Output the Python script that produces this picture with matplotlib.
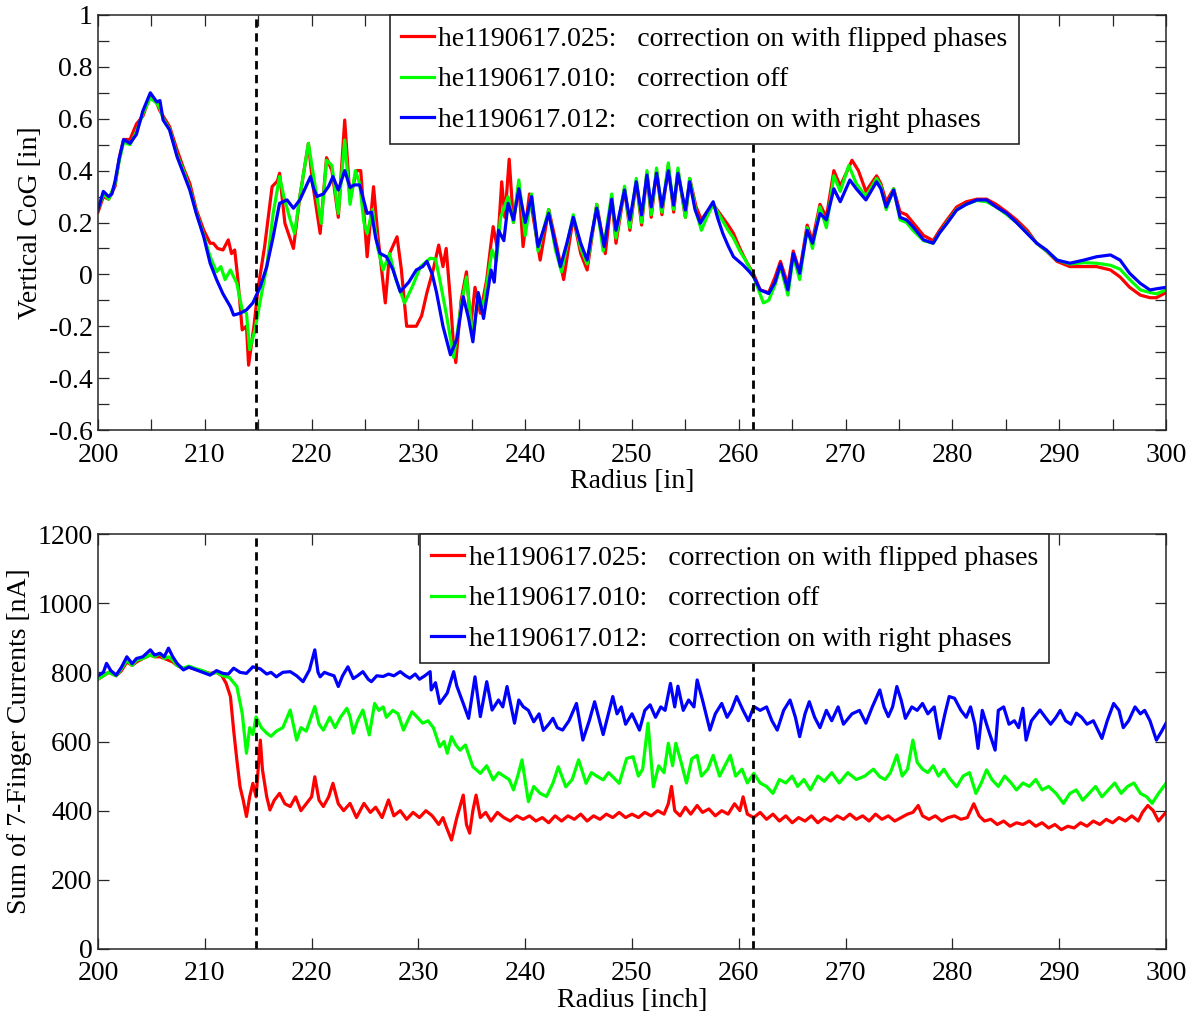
import matplotlib
matplotlib.use("Agg")
import matplotlib.pyplot as plt
from matplotlib.ticker import MultipleLocator

plt.rcParams['font.family'] = ['Liberation Serif', 'DejaVu Serif']
plt.rcParams['axes.unicode_minus'] = False

# ---- data: top panel (vertical CoG) ----
cog_blue_x = [200.0, 200.5, 201.0, 201.3, 201.6, 202.0, 202.4, 203.0, 203.6, 204.2, 204.9, 205.5, 205.8, 206.1, 206.7,
              207.4, 208.0, 208.6, 209.2, 209.9, 210.5, 211.1, 211.7, 212.4, 212.7, 213.3, 213.9, 214.5, 215.2, 215.8,
              216.4, 217.0, 217.7, 218.3, 218.9, 219.9, 220.2, 220.5, 221.1, 221.6, 222.0, 222.5, 223.1, 223.6, 224.0,
              224.5, 225.2, 225.6, 226.0, 226.4, 227.0, 227.6, 228.3, 229.1, 229.8, 230.4, 230.8, 231.3, 231.7, 232.3,
              233.0, 233.6, 234.2, 234.7, 235.1, 235.6, 236.1, 236.8, 237.1, 237.5, 238.0, 238.4, 238.9, 239.4, 240.0,
              240.6, 241.2, 241.7, 242.2, 242.8, 243.3, 243.9, 244.5, 245.2, 245.8, 246.2, 246.7, 247.4, 248.1, 248.5,
              249.3, 249.8, 250.4, 250.9, 251.4, 251.8, 252.3, 252.8, 253.4, 253.9, 254.3, 255.0, 255.4, 255.9, 256.4,
              257.0, 257.6, 258.0, 258.5, 259.0, 259.5, 260.0, 260.4, 261.0, 261.4, 262.0, 262.8, 263.4, 263.9, 264.6,
              265.1, 265.7, 266.4, 266.9, 267.6, 268.2, 268.9, 269.5, 270.4, 271.0, 271.9, 272.9, 273.3, 273.8, 274.5,
              275.1, 275.7, 276.3, 277.3, 278.2, 278.8, 279.5, 280.4, 281.3, 282.3, 283.2, 284.1, 285.1, 286.0, 287.0,
              287.9, 288.8, 289.8, 291.0, 292.3, 293.5, 294.8, 295.7, 296.6, 297.6, 298.5, 299.2, 300.0]
cog_blue_y = [0.25, 0.32, 0.30, 0.31, 0.36, 0.45, 0.52, 0.505, 0.54, 0.63, 0.70, 0.665, 0.67, 0.595, 0.557,
              0.454, 0.39, 0.325, 0.235, 0.145, 0.043, -0.02, -0.075, -0.125, -0.157, -0.15, -0.137, -0.11, -0.047, 0.03,
              0.145, 0.274, 0.287, 0.255, 0.287, 0.377, 0.33, 0.30, 0.31, 0.34, 0.377, 0.325, 0.40, 0.335, 0.345,
              0.345, 0.235, 0.24, 0.14, 0.081, 0.068, 0.02, -0.067, -0.03, 0.017, 0.03, 0.05, 0.0, -0.07, -0.2,
              -0.31, -0.25, -0.086, -0.17, -0.26, -0.07, -0.17, 0.017, -0.03, 0.17, 0.13, 0.274, 0.21, 0.33, 0.20,
              0.30, 0.107, 0.17, 0.235, 0.12, 0.03, 0.12, 0.22, 0.12, 0.055, 0.15, 0.255, 0.107, 0.29, 0.17,
              0.325, 0.21, 0.357, 0.229, 0.383, 0.26, 0.39, 0.26, 0.40, 0.267, 0.39, 0.248, 0.357, 0.25, 0.197,
              0.24, 0.28, 0.22, 0.158, 0.11, 0.068, 0.05, 0.036, 0.01, -0.01, -0.06, -0.074, -0.03, 0.04, -0.06,
              0.08, 0.004, 0.17, 0.12, 0.235, 0.21, 0.33, 0.28, 0.364, 0.33, 0.287, 0.357, 0.33, 0.26, 0.325,
              0.22, 0.21, 0.184, 0.133, 0.12, 0.16, 0.197, 0.248, 0.27, 0.287, 0.287, 0.26, 0.235, 0.20, 0.158,
              0.12, 0.094, 0.055, 0.043, 0.055, 0.068, 0.075, 0.055, 0.004, -0.035, -0.06, -0.055, -0.05]

cog_green_x = [200.0, 200.5, 201.0, 201.6, 202.0, 202.4, 203.0, 203.6, 204.2, 204.9, 205.5, 205.8, 206.1, 206.7, 207.4,
               208.0, 208.6, 209.2, 209.9, 210.5, 211.1, 211.5, 211.9, 212.4, 213.0, 213.5, 213.9, 214.2, 214.7, 215.2,
               215.8, 216.4, 217.0, 217.4, 218.0, 218.4, 218.9, 219.7, 220.1, 220.9, 221.4, 221.9, 222.5, 223.1, 223.6,
               224.1, 224.5, 224.9, 225.2, 225.7, 226.2, 226.7, 227.3, 227.9, 228.7, 229.4, 230.2, 231.1, 231.6, 232.0,
               232.6, 233.3, 234.0, 234.5, 235.1, 235.6, 236.1, 236.9, 237.3, 237.7, 238.4, 238.9, 239.4, 240.0, 240.6,
               241.2, 241.7, 242.2, 242.8, 243.4, 243.9, 244.5, 245.2, 245.8, 246.2, 246.7, 247.3, 248.1, 248.5, 249.3,
               249.8, 250.4, 250.9, 251.4, 251.8, 252.3, 252.8, 253.4, 253.9, 254.3, 255.0, 255.4, 256.0, 256.5, 257.0,
               257.6, 258.3, 259.0, 259.5, 260.1, 260.7, 261.4, 262.3, 262.8, 263.4, 263.9, 264.6, 265.1, 265.7, 266.4,
               266.9, 267.6, 268.2, 268.9, 269.5, 270.3, 271.0, 271.9, 272.9, 273.3, 273.8, 274.5, 275.1, 275.7, 276.3,
               277.3, 278.2, 278.8, 279.5, 280.4, 281.3, 282.3, 283.2, 284.1, 285.1, 286.0, 287.0, 287.9, 288.8, 289.8,
               291.0, 292.3, 293.5, 294.8, 295.7, 296.6, 297.6, 298.5, 299.1, 300.0]
cog_green_y = [0.25, 0.31, 0.29, 0.35, 0.44, 0.51, 0.50, 0.55, 0.62, 0.68, 0.66, 0.64, 0.60, 0.56, 0.46,
               0.40, 0.33, 0.24, 0.15, 0.068, 0.01, 0.03, -0.02, 0.017, -0.035, -0.137, -0.15, -0.29, -0.214, -0.10,
               0.03, 0.235, 0.377, 0.30, 0.21, 0.158, 0.30, 0.505, 0.40, 0.197, 0.44, 0.42, 0.235, 0.518, 0.27,
               0.40, 0.35, 0.20, 0.158, 0.25, 0.10, 0.017, 0.08, -0.02, -0.11, -0.05, 0.03, 0.062, 0.06, -0.02,
               -0.15, -0.32, -0.12, -0.01, -0.25, -0.08, -0.12, 0.094, 0.05, 0.22, 0.30, 0.20, 0.364, 0.15, 0.31,
               0.09, 0.17, 0.25, 0.10, 0.01, 0.11, 0.23, 0.10, 0.04, 0.14, 0.27, 0.09, 0.31, 0.14, 0.34,
               0.18, 0.37, 0.20, 0.40, 0.23, 0.41, 0.24, 0.43, 0.25, 0.41, 0.22, 0.37, 0.24, 0.17, 0.22,
               0.27, 0.22, 0.17, 0.14, 0.09, 0.05, -0.01, -0.11, -0.10, -0.04, 0.03, -0.08, 0.07, -0.02, 0.18,
               0.10, 0.26, 0.18, 0.38, 0.32, 0.42, 0.35, 0.30, 0.37, 0.34, 0.25, 0.33, 0.21, 0.20, 0.17,
               0.13, 0.12, 0.16, 0.20, 0.25, 0.27, 0.285, 0.28, 0.26, 0.23, 0.20, 0.16, 0.12, 0.09, 0.055,
               0.04, 0.045, 0.043, 0.035, 0.02, -0.02, -0.06, -0.07, -0.075, -0.06]

cog_red_x = [200.0, 200.5, 201.0, 201.6, 202.0, 202.4, 203.0, 203.6, 204.2, 204.9, 205.5, 205.8, 206.1, 206.7, 207.4,
             208.0, 208.6, 209.2, 209.9, 210.5, 210.8, 211.2, 211.7, 212.2, 212.5, 212.8, 213.1, 213.5, 213.9, 214.1,
             214.6, 215.0, 215.6, 216.3, 216.8, 217.0, 217.5, 218.3, 218.9, 219.7, 220.1, 220.8, 221.4, 221.9, 222.5,
             223.1, 223.6, 224.2, 224.6, 225.2, 225.8, 226.2, 226.9, 227.3, 228.0, 228.4, 228.9, 229.8, 230.3, 230.8,
             231.4, 231.9, 232.3, 232.6, 233.0, 233.3, 233.5, 234.0, 234.5, 234.9, 235.3, 235.8, 236.4, 236.8, 237.0,
             237.4, 237.8, 238.1, 238.5, 238.9, 239.4, 239.8, 240.4, 241.4, 242.2, 243.0, 243.6, 244.5, 245.2, 245.8,
             246.7, 247.5, 248.1, 248.5, 249.3, 249.8, 250.4, 250.9, 251.4, 251.8, 252.3, 252.8, 253.4, 253.9, 254.3,
             255.0, 255.4, 256.0, 256.5, 257.0, 257.6, 258.3, 259.0, 259.5, 260.1, 260.7, 261.4, 262.0, 262.8, 263.4,
             263.9, 264.6, 265.1, 265.7, 266.4, 266.9, 267.6, 268.2, 268.9, 269.5, 270.6, 271.2, 271.9, 272.9, 273.3,
             273.8, 274.5, 275.1, 275.7, 276.3, 277.3, 278.2, 278.8, 279.5, 280.4, 281.3, 282.3, 283.2, 284.1, 285.1,
             286.0, 287.0, 287.9, 288.8, 289.8, 291.0, 292.3, 293.5, 294.8, 295.7, 296.6, 297.6, 298.5, 299.1, 300.0]
cog_red_y = [0.24, 0.30, 0.29, 0.34, 0.45, 0.52, 0.52, 0.58, 0.61, 0.69, 0.66, 0.63, 0.61, 0.57, 0.48,
             0.41, 0.35, 0.25, 0.17, 0.12, 0.12, 0.10, 0.094, 0.133, 0.08, 0.094, -0.02, -0.214, -0.20, -0.35,
             -0.20, -0.05, 0.107, 0.338, 0.36, 0.39, 0.197, 0.10, 0.30, 0.505, 0.35, 0.158, 0.45, 0.40, 0.22,
             0.595, 0.29, 0.40, 0.40, 0.068, 0.338, 0.15, -0.11, 0.08, 0.145, 0.02, -0.20, -0.20, -0.16, -0.07,
             0.02, 0.113, 0.03, 0.10, -0.10, -0.28, -0.34, -0.10, 0.01, -0.20, -0.05, -0.15, -0.02, 0.12, 0.184,
             0.10, 0.357, 0.22, 0.444, 0.20, 0.35, 0.107, 0.31, 0.055, 0.25, 0.10, -0.02, 0.22, 0.08, 0.017,
             0.27, 0.08, 0.30, 0.12, 0.33, 0.17, 0.36, 0.19, 0.39, 0.22, 0.40, 0.23, 0.42, 0.24, 0.40,
             0.22, 0.37, 0.26, 0.21, 0.24, 0.27, 0.23, 0.19, 0.158, 0.10, 0.05, 0.00, -0.06, -0.07, -0.01,
             0.05, -0.04, 0.09, 0.01, 0.19, 0.13, 0.27, 0.22, 0.40, 0.34, 0.44, 0.40, 0.32, 0.38, 0.35,
             0.28, 0.33, 0.24, 0.23, 0.20, 0.15, 0.13, 0.17, 0.21, 0.26, 0.28, 0.29, 0.29, 0.27, 0.24,
             0.21, 0.17, 0.12, 0.09, 0.05, 0.03, 0.03, 0.03, 0.017, -0.01, -0.05, -0.08, -0.09, -0.09, -0.07]

# ---- data: bottom panel (sum of 7-finger currents, nA) ----
cur_blue_x = [200.0, 200.5, 200.8, 201.2, 201.7, 202.2, 202.7, 203.2, 203.6, 204.2, 204.9, 205.3, 205.8, 206.2, 206.6,
              207.0, 207.4, 208.0, 208.5, 209.2, 209.8, 210.5, 211.1, 211.7, 212.2, 212.7, 213.3, 213.9, 214.5, 215.2,
              215.8, 216.2, 216.7, 217.3, 218.0, 218.6, 219.2, 219.8, 220.3, 220.6, 220.8, 221.2, 221.6, 222.1, 222.5,
              222.9, 223.4, 223.9, 224.3, 224.8, 225.3, 225.6, 226.1, 226.7, 227.2, 227.7, 228.3, 228.8, 229.2, 229.7,
              230.1, 230.6, 231.1, 231.2, 231.6, 232.0, 232.7, 233.3, 233.6, 234.2, 234.7, 235.3, 235.8, 236.4, 236.9,
              237.5, 237.9, 238.3, 239.0, 239.4, 239.8, 240.3, 240.8, 241.3, 241.7, 242.2, 242.6, 243.0, 243.5, 244.1,
              244.8, 245.4, 246.0, 246.5, 247.3, 248.2, 248.6, 249.0, 249.4, 250.0, 250.7, 251.2, 251.7, 252.2, 252.7,
              253.1, 253.6, 254.0, 254.3, 254.8, 255.3, 255.8, 256.1, 256.6, 257.3, 257.8, 258.4, 258.9, 259.3, 259.8,
              260.4, 260.9, 261.4, 262.0, 262.6, 263.1, 263.6, 264.2, 264.8, 265.3, 265.7, 266.2, 266.6, 267.1, 267.6,
              268.2, 268.7, 269.3, 269.8, 270.6, 271.3, 271.9, 272.5, 273.2, 273.6, 274.0, 274.4, 274.8, 275.2, 275.6,
              276.2, 276.7, 277.2, 277.7, 278.3, 278.8, 279.3, 279.7, 280.2, 280.8, 281.3, 281.7, 282.1, 282.4, 282.8,
              283.3, 284.0, 284.3, 284.8, 285.3, 285.8, 286.2, 286.6, 286.9, 287.4, 288.2, 288.7, 289.2, 289.7, 290.1,
              290.6, 291.1, 291.6, 292.1, 292.6, 293.2, 294.0, 294.5, 295.1, 295.6, 296.0, 296.5, 297.1, 297.6, 298.0,
              298.5, 299.1, 299.6, 300.0]
cur_blue_y = [790, 800, 826, 805, 792, 815, 845, 825, 840, 845, 865, 850, 855, 845, 870,
              845, 826, 807, 815, 807, 800, 792, 805, 797, 795, 812, 800, 797, 816, 810,
              795, 800, 787, 800, 802, 790, 773, 807, 865, 800, 787, 800, 795, 790, 759,
              790, 816, 782, 790, 802, 780, 773, 790, 788, 795, 790, 802, 790, 783, 795,
              780, 790, 802, 749, 770, 710, 740, 802, 760, 710, 667, 787, 672, 773, 691,
              720, 700, 759, 653, 720, 701, 690, 657, 680, 632, 650, 667, 640, 633, 660,
              710, 604, 660, 715, 620, 730, 680, 700, 650, 680, 633, 690, 706, 670, 700,
              690, 768, 700, 760, 690, 720, 700, 778, 720, 633, 680, 710, 670, 690, 730,
              690, 660, 701, 690, 700, 660, 633, 690, 720, 670, 614, 680, 715, 670, 640,
              690, 660, 700, 650, 680, 690, 653, 700, 749, 700, 672, 700, 759, 720, 667,
              700, 690, 710, 680, 700, 609, 680, 730, 725, 690, 670, 700, 650, 580, 690,
              640, 575, 690, 700, 650, 660, 640, 696, 604, 660, 691, 670, 650, 670, 690,
              660, 650, 682, 670, 650, 660, 609, 660, 710, 690, 640, 660, 700, 680, 690,
              660, 604, 630, 653]

cur_green_x = [200.0, 200.5, 201.0, 201.7, 202.2, 202.7, 203.2, 203.6, 204.2, 204.9, 205.3, 205.8, 206.2, 206.6, 207.0,
               207.4, 208.0, 208.5, 209.2, 209.8, 210.5, 211.1, 211.7, 212.3, 213.0, 213.5, 213.9, 214.2, 214.5, 214.8,
               215.3, 215.8, 216.2, 216.7, 217.3, 218.0, 218.6, 219.0, 219.5, 220.3, 220.7, 221.1, 221.7, 222.2, 222.7,
               223.3, 223.6, 223.9, 224.3, 224.8, 225.4, 225.9, 226.3, 226.7, 227.0, 227.6, 228.1, 228.6, 229.0, 229.4,
               229.9, 230.4, 230.9, 231.4, 232.0, 232.4, 232.7, 233.1, 233.5, 233.9, 234.4, 235.1, 235.8, 236.4, 237.0,
               237.5, 238.0, 238.5, 238.9, 239.3, 239.7, 240.3, 240.8, 241.4, 242.0, 242.6, 243.1, 243.8, 244.4, 245.0,
               245.7, 246.2, 246.7, 247.3, 247.8, 248.3, 248.8, 249.5, 250.1, 250.6, 251.0, 251.5, 252.0, 252.5, 253.0,
               253.4, 253.8, 254.1, 254.6, 255.1, 255.6, 256.1, 256.5, 257.1, 257.6, 258.2, 258.7, 259.2, 259.7, 260.3,
               260.8, 261.4, 262.0, 262.6, 263.2, 263.8, 264.4, 265.0, 265.5, 266.1, 266.7, 267.4, 268.0, 268.7, 269.4,
               270.2, 271.0, 271.8, 272.6, 273.2, 273.7, 274.2, 274.8, 275.3, 275.8, 276.3, 276.7, 277.2, 277.7, 278.2,
               278.7, 279.2, 279.7, 280.4, 281.0, 281.6, 282.2, 282.7, 283.2, 283.7, 284.3, 284.9, 285.5, 286.0, 286.6,
               287.2, 287.8, 288.4, 289.0, 289.7, 290.4, 291.0, 291.6, 292.2, 292.8, 293.4, 294.0, 294.6, 295.2, 295.8,
               296.4, 297.0, 297.6, 298.2, 298.7, 299.3, 300.0]
cur_green_y = [780, 790, 800, 790, 810, 835, 820, 835, 840, 850, 845, 855, 840, 845, 835,
               820, 812, 818, 810, 805, 795, 800, 790, 785, 759, 682, 566, 640, 620, 671,
               640, 624, 615, 630, 640, 691, 604, 640, 630, 701, 650, 633, 670, 640, 670,
               696, 672, 624, 660, 691, 619, 710, 690, 700, 670, 690, 680, 633, 660, 686,
               670, 653, 660, 640, 585, 600, 566, 614, 590, 575, 590, 527, 508, 530, 489,
               510, 500, 490, 460, 500, 547, 426, 470, 450, 441, 480, 527, 469, 490, 547,
               479, 510, 500, 489, 510, 495, 479, 551, 556, 500, 520, 653, 469, 530, 510,
               595, 530, 595, 540, 480, 550, 560, 500, 520, 560, 500, 530, 560, 500, 520,
               480, 508, 480, 470, 450, 490, 480, 500, 470, 490, 460, 500, 485, 510, 480,
               510, 490, 500, 520, 498, 490, 510, 561, 500, 520, 604, 540, 520, 510, 530,
               500, 520, 495, 469, 500, 510, 450, 480, 518, 490, 470, 500, 480, 460, 480,
               470, 490, 460, 470, 450, 421, 450, 460, 430, 450, 470, 440, 460, 480, 450,
               470, 480, 450, 440, 421, 450, 479]

cur_red_x = [200.0, 200.5, 201.0, 201.7, 202.2, 202.7, 203.2, 203.6, 204.2, 204.9, 205.3, 205.8, 206.2, 206.6, 207.0,
             207.4, 208.0, 208.5, 209.2, 209.8, 210.5, 211.1, 211.6, 212.0, 212.4, 212.7, 213.0, 213.3, 213.6, 213.9,
             214.2, 214.5, 214.8, 215.2, 215.4, 215.8, 216.1, 216.5, 217.0, 217.5, 218.0, 218.5, 219.0, 219.5, 220.0,
             220.3, 220.7, 221.1, 221.6, 222.0, 222.5, 223.0, 223.6, 224.2, 224.9, 225.5, 226.0, 226.6, 227.2, 227.7,
             228.3, 228.9, 229.5, 230.1, 230.7, 231.3, 231.9, 232.3, 232.6, 233.1, 233.6, 234.2, 234.5, 234.8, 235.1,
             235.4, 235.8, 236.3, 236.8, 237.4, 238.0, 238.6, 239.2, 239.8, 240.4, 241.0, 241.6, 242.2, 242.8, 243.4,
             244.0, 244.6, 245.2, 245.8, 246.4, 247.0, 247.6, 248.2, 248.8, 249.4, 250.0, 250.6, 251.2, 251.8, 252.4,
             253.0, 253.4, 253.7, 254.0, 254.5, 255.0, 255.5, 256.1, 256.6, 257.2, 257.8, 258.4, 259.0, 259.6, 260.1,
             260.4, 260.8, 261.4, 262.0, 262.6, 263.2, 263.8, 264.4, 265.0, 265.6, 266.2, 266.8, 267.4, 268.0, 268.6,
             269.2, 269.8, 270.4, 271.0, 271.6, 272.2, 272.8, 273.4, 274.0, 274.6, 275.2, 275.8, 276.3, 276.8, 277.2,
             277.8, 278.4, 279.0, 279.6, 280.2, 280.8, 281.4, 282.0, 282.5, 283.0, 283.6, 284.2, 284.8, 285.4, 286.0,
             286.6, 287.2, 287.8, 288.4, 289.0, 289.6, 290.2, 290.8, 291.4, 292.0, 292.6, 293.2, 293.8, 294.4, 295.0,
             295.6, 296.2, 296.8, 297.4, 297.8, 298.3, 298.8, 299.3, 299.7, 300.0]
cur_red_y = [780, 790, 800, 790, 805, 830, 820, 830, 840, 850, 845, 845, 840, 835, 830,
             820, 810, 815, 808, 803, 797, 800, 790, 768, 730, 633, 547, 469, 430, 383,
             440, 479, 440, 604, 518, 440, 402, 430, 450, 420, 412, 440, 400, 420, 440,
             498, 430, 412, 440, 479, 420, 400, 421, 380, 421, 395, 410, 380, 431, 385,
             400, 375, 395, 380, 400, 385, 360, 380, 354, 315, 380, 445, 360, 335, 400,
             445, 380, 395, 370, 395, 380, 370, 385, 375, 385, 370, 380, 365, 385, 370,
             385, 375, 390, 370, 385, 375, 390, 380, 395, 380, 390, 380, 395, 385, 400,
             390, 420, 470, 400, 385, 410, 390, 415, 395, 405, 385, 400, 390, 420, 400,
             440, 390, 380, 395, 375, 390, 370, 385, 365, 380, 370, 385, 365, 380, 370,
             385, 375, 390, 375, 385, 370, 390, 375, 385, 370, 380, 390, 395, 415, 385,
             375, 385, 370, 380, 385, 375, 380, 420, 385, 370, 375, 360, 370, 355, 365,
             360, 370, 355, 365, 350, 360, 345, 355, 350, 365, 355, 370, 360, 375, 365,
             380, 370, 385, 370, 395, 415, 400, 370, 385, 395]

labels = ['he1190617.025:   correction on with flipped phases',
          'he1190617.010:   correction off',
          'he1190617.012:   correction on with right phases']
marker_lines = [214.8, 261.35]

cog_ticks = [-0.6, -0.4, -0.2, 0, 0.2, 0.4, 0.6, 0.8, 1]
cog_ticklabels = ['-0.6', '-0.4', '-0.2', '0', '0.2', '0.4', '0.6', '0.8', '1']
cur_ticks = [0, 200, 400, 600, 800, 1000, 1200]
x_ticks = [200, 210, 220, 230, 240, 250, 260, 270, 280, 290, 300]

fs = 20
axcol = '#262626'

fig = plt.figure(figsize=(11.94, 10.17), dpi=100)
ax1 = fig.add_axes([98/1194, 1-430/1017, 1068/1194, 415/1017])
ax2 = fig.add_axes([98/1194, 1-949/1017, 1068/1194, 415/1017])


def style(ax):
    for s in ax.spines.values():
        s.set_color(axcol)
        s.set_linewidth(1.1)
    ax.tick_params(which='both', direction='in', top=True, right=True, length=8,
                   width=0.9, color=axcol, labelsize=fs)
    ax.tick_params(axis='x', pad=9)
    ax.tick_params(axis='y', pad=4)
    ax.set_xlim(200, 300)
    ax.set_xticks(x_ticks)


lw = 2.3
ax1.plot(cog_red_x, cog_red_y, color='#ff0000', lw=lw, label=labels[0])
ax1.plot(cog_green_x, cog_green_y, color='#00ff00', lw=lw, label=labels[1])
ax1.plot(cog_blue_x, cog_blue_y, color='#0000ff', lw=lw, label=labels[2])
for xv in marker_lines:
    ax1.axvline(xv, color='black', lw=2, linestyle=(0, (3, 2)))
style(ax1)
ax1.set_ylim(-0.6, 1)
ax1.set_yticks(cog_ticks)
ax1.set_yticklabels(cog_ticklabels)
ax1.xaxis.set_minor_locator(MultipleLocator(5))
ax1.yaxis.set_minor_locator(MultipleLocator(0.1))
ax1.set_xlabel('Radius [in]', fontsize=fs, labelpad=1)
ax1.set_ylabel('Vertical CoG [in]', fontsize=fs, labelpad=4)

ax2.plot(cur_red_x, cur_red_y, color='#ff0000', lw=lw, label=labels[0])
ax2.plot(cur_green_x, cur_green_y, color='#00ff00', lw=lw, label=labels[1])
ax2.plot(cur_blue_x, cur_blue_y, color='#0000ff', lw=lw, label=labels[2])
for xv in marker_lines:
    ax2.axvline(xv, color='black', lw=2, linestyle=(0, (3, 2)))
style(ax2)
ax2.set_ylim(0, 1200)
ax2.set_yticks(cur_ticks)
ax2.set_xlabel('Radius [inch]', fontsize=fs, labelpad=1)
ax2.set_ylabel('Sum of 7-Finger Currents [nA]', fontsize=fs, labelpad=4)

for ax, left in [(ax1, 0.273), (ax2, 0.3015)]:
    leg = ax.legend(loc='upper left', bbox_to_anchor=(left, 1.0), fontsize=fs,
                    frameon=True, fancybox=False, borderaxespad=0, handlelength=1.2,
                    handletextpad=0.15, labelspacing=0.55, borderpad=0.4)
    leg.get_frame().set_edgecolor(axcol)
    leg.get_frame().set_linewidth(1.2)
    leg.get_frame().set_alpha(1)

fig.savefig('out.png', dpi=100)
